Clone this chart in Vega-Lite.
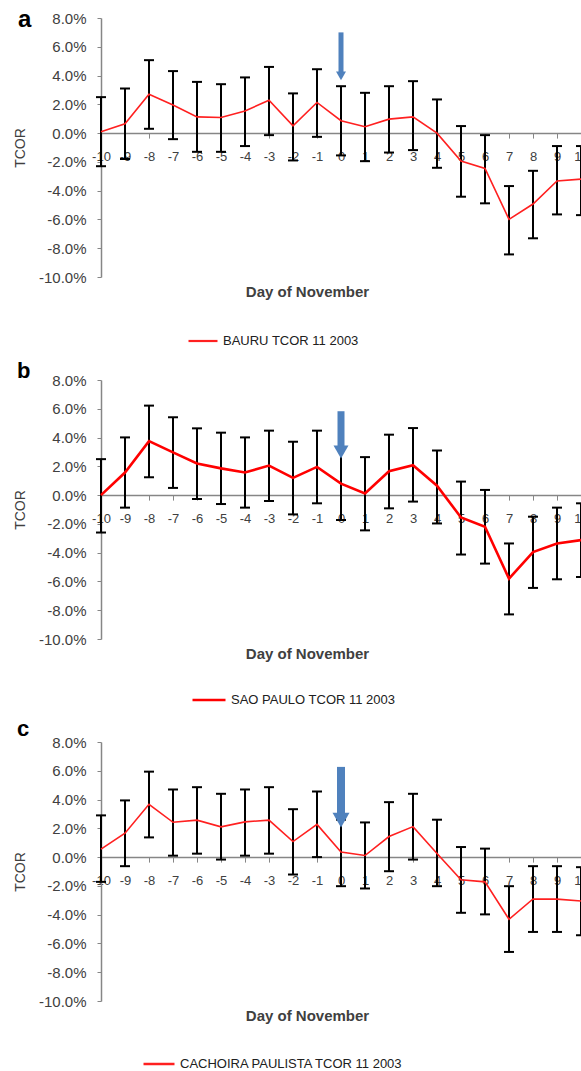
{
  "$schema": "https://vega.github.io/schema/vega-lite/v6.json",
  "padding": {"left": 13, "top": 8, "right": 0, "bottom": 0},
  "config": {
    "view": {"stroke": null},
    "font": "Liberation Sans",
    "axis": {"labelOverlap": false},
    "locale": {"number": {"decimal": ".", "thousands": ",", "grouping": [3], "currency": ["$", ""], "minus": "-"}}
  },
  "datasets": {
    "tcor": [
      {"panel": "a", "day": -10, "v": 0.001, "lo": -0.023, "hi": 0.025},
      {"panel": "a", "day": -9, "v": 0.0065, "lo": -0.018, "hi": 0.031},
      {"panel": "a", "day": -8, "v": 0.027, "lo": 0.003, "hi": 0.0507},
      {"panel": "a", "day": -7, "v": 0.0195, "lo": -0.0042, "hi": 0.0431},
      {"panel": "a", "day": -6, "v": 0.0113, "lo": -0.013, "hi": 0.0356},
      {"panel": "a", "day": -5, "v": 0.0109, "lo": -0.013, "hi": 0.034},
      {"panel": "a", "day": -4, "v": 0.0153, "lo": -0.009, "hi": 0.0387},
      {"panel": "a", "day": -3, "v": 0.0229, "lo": -0.0014, "hi": 0.046},
      {"panel": "a", "day": -2, "v": 0.005, "lo": -0.019, "hi": 0.0276},
      {"panel": "a", "day": -1, "v": 0.0213, "lo": -0.0026, "hi": 0.0444},
      {"panel": "a", "day": 0, "v": 0.0086, "lo": -0.0155, "hi": 0.0326},
      {"panel": "a", "day": 1, "v": 0.0044, "lo": -0.0195, "hi": 0.028},
      {"panel": "a", "day": 2, "v": 0.0097, "lo": -0.0135, "hi": 0.0326},
      {"panel": "a", "day": 3, "v": 0.0113, "lo": -0.0118, "hi": 0.0361},
      {"panel": "a", "day": 4, "v": 0.0, "lo": -0.0241, "hi": 0.0234},
      {"panel": "a", "day": 5, "v": -0.0194, "lo": -0.0442, "hi": 0.0049},
      {"panel": "a", "day": 6, "v": -0.0245, "lo": -0.0488, "hi": -0.0014},
      {"panel": "a", "day": 7, "v": -0.0599, "lo": -0.0843, "hi": -0.0368},
      {"panel": "a", "day": 8, "v": -0.0493, "lo": -0.0731, "hi": -0.0262},
      {"panel": "a", "day": 9, "v": -0.0333, "lo": -0.0565, "hi": -0.009},
      {"panel": "a", "day": 10, "v": -0.032, "lo": -0.057, "hi": -0.009},
      {"panel": "b", "day": -10, "v": 0.0, "lo": -0.026, "hi": 0.025},
      {"panel": "b", "day": -9, "v": 0.0157, "lo": -0.0087, "hi": 0.0401},
      {"panel": "b", "day": -8, "v": 0.0375, "lo": 0.0124, "hi": 0.0622},
      {"panel": "b", "day": -7, "v": 0.0297, "lo": 0.005, "hi": 0.0541},
      {"panel": "b", "day": -6, "v": 0.022, "lo": -0.0027, "hi": 0.0464},
      {"panel": "b", "day": -5, "v": 0.0186, "lo": -0.0062, "hi": 0.0434},
      {"panel": "b", "day": -4, "v": 0.0157, "lo": -0.0087, "hi": 0.0401},
      {"panel": "b", "day": -3, "v": 0.0205, "lo": -0.0041, "hi": 0.0448},
      {"panel": "b", "day": -2, "v": 0.012, "lo": -0.0134, "hi": 0.0371},
      {"panel": "b", "day": -1, "v": 0.0196, "lo": -0.0057, "hi": 0.0448},
      {"panel": "b", "day": 0, "v": 0.008, "lo": -0.0173, "hi": 0.0327},
      {"panel": "b", "day": 1, "v": 0.0012, "lo": -0.0245, "hi": 0.0264},
      {"panel": "b", "day": 2, "v": 0.0166, "lo": -0.0092, "hi": 0.042},
      {"panel": "b", "day": 3, "v": 0.0208, "lo": -0.0045, "hi": 0.0466},
      {"panel": "b", "day": 4, "v": 0.0065, "lo": -0.0197, "hi": 0.031},
      {"panel": "b", "day": 5, "v": -0.0155, "lo": -0.0413, "hi": 0.0094},
      {"panel": "b", "day": 6, "v": -0.022, "lo": -0.0476, "hi": 0.0036},
      {"panel": "b", "day": 7, "v": -0.058, "lo": -0.0829, "hi": -0.0336},
      {"panel": "b", "day": 8, "v": -0.0396, "lo": -0.0645, "hi": -0.015},
      {"panel": "b", "day": 9, "v": -0.0336, "lo": -0.0585, "hi": -0.0087},
      {"panel": "b", "day": 10, "v": -0.0313, "lo": -0.0569, "hi": -0.0057},
      {"panel": "c", "day": -10, "v": 0.0055, "lo": -0.0172, "hi": 0.029},
      {"panel": "c", "day": -9, "v": 0.0166, "lo": -0.0063, "hi": 0.0394},
      {"panel": "c", "day": -8, "v": 0.0367, "lo": 0.0137, "hi": 0.0594},
      {"panel": "c", "day": -7, "v": 0.0242, "lo": 0.001, "hi": 0.047},
      {"panel": "c", "day": -6, "v": 0.0257, "lo": 0.0024, "hi": 0.0486},
      {"panel": "c", "day": -5, "v": 0.021, "lo": -0.0017, "hi": 0.044},
      {"panel": "c", "day": -4, "v": 0.0245, "lo": 0.001, "hi": 0.047},
      {"panel": "c", "day": -3, "v": 0.0257, "lo": 0.0024, "hi": 0.0486},
      {"panel": "c", "day": -2, "v": 0.0108, "lo": -0.0121, "hi": 0.0333},
      {"panel": "c", "day": -1, "v": 0.0227, "lo": 0.0, "hi": 0.0456},
      {"panel": "c", "day": 0, "v": 0.0035, "lo": -0.0202, "hi": 0.026},
      {"panel": "c", "day": 1, "v": 0.0011, "lo": -0.0218, "hi": 0.0241},
      {"panel": "c", "day": 2, "v": 0.0143, "lo": -0.0098, "hi": 0.0382},
      {"panel": "c", "day": 3, "v": 0.0212, "lo": -0.0017, "hi": 0.044},
      {"panel": "c", "day": 4, "v": 0.0025, "lo": -0.0202, "hi": 0.026},
      {"panel": "c", "day": 5, "v": -0.0157, "lo": -0.0387, "hi": 0.007},
      {"panel": "c", "day": 6, "v": -0.0172, "lo": -0.0398, "hi": 0.0059},
      {"panel": "c", "day": 7, "v": -0.0432, "lo": -0.0659, "hi": -0.0202},
      {"panel": "c", "day": 8, "v": -0.0291, "lo": -0.052, "hi": -0.0063},
      {"panel": "c", "day": 9, "v": -0.0292, "lo": -0.052, "hi": -0.0063},
      {"panel": "c", "day": 10, "v": -0.0305, "lo": -0.0543, "hi": -0.007}
    ],
    "arrows": [
      {"panel": "a", "day": 0, "top": 0.07, "tip": 0.0368},
      {"panel": "b", "day": 0, "top": 0.0583, "tip": 0.0255},
      {"panel": "c", "day": 0, "top": 0.0627, "tip": 0.0205}
    ]
  },
  "bounds": "flush",
  "spacing": 103,
  "resolve": {"scale": {"color": "independent"}},
  "vconcat": [
    {
      "width": 480, "height": 259,
      "title": {"text": "a", "anchor": "start", "frame": "group", "fontSize": 24, "fontWeight": "bold", "font": "Liberation Sans", "color": "#000000", "dx": -83, "baseline": "alphabetic", "offset": -40},
      "encoding": {
        "x": {"field": "day", "type": "quantitative", "scale": {"domain": [-10, 10], "nice": false, "zero": false},
          "axis": {"values": [-10, -9, -8, -7, -6, -5, -4, -3, -2, -1, 0, 1, 2, 3, 4, 5, 6, 7, 8, 9, 10], "format": "d", "offset": -143.9, "grid": false,
            "domainColor": "#868686", "domainWidth": 1.5, "tickColor": "#868686", "tickSize": 5, "tickWidth": 1,
            "labelFontSize": 13, "labelColor": "#404040", "labelPadding": 12, "labelOverlap": false, "labelFlush": false,
            "title": "Day of November", "titleFontSize": 15, "titleFontWeight": "bold", "titleColor": "#404040", "titleX": 206, "titleY": 151}}
      },
      "layer": [
        {"data": {"name": "tcor"}, "transform": [{"filter": "datum.panel == 'a'"}],
          "mark": {"type": "rule", "color": "#000000", "strokeWidth": 2},
          "encoding": {
            "y": {"field": "lo", "type": "quantitative", "title": "TCOR", "scale": {"domain": [-0.1, 0.08], "nice": false, "zero": false},
              "axis": {"values": [-0.1, -0.08, -0.06, -0.04, -0.02, 0, 0.02, 0.04, 0.06, 0.08], "format": ".1%", "grid": false, "labelOverlap": false, "domainColor": "#868686", "domainWidth": 1.5, "tickColor": "#868686", "tickSize": 4, "tickWidth": 1, "labelFontSize": 15, "labelColor": "#404040", "labelPadding": 11, "titleFontSize": 14, "titleFontWeight": "normal", "titleColor": "#404040", "titlePadding": 11}},
            "y2": {"field": "hi"}}},
        {"data": {"name": "tcor"}, "transform": [{"filter": "datum.panel == 'a'"}],
          "mark": {"type": "tick", "orient": "horizontal", "size": 10, "thickness": 2, "color": "#000000", "opacity": 1},
          "encoding": {"y": {"field": "lo", "type": "quantitative", "title": "TCOR", "scale": {"domain": [-0.1, 0.08], "nice": false, "zero": false},
              "axis": {"values": [-0.1, -0.08, -0.06, -0.04, -0.02, 0, 0.02, 0.04, 0.06, 0.08], "format": ".1%", "grid": false, "labelOverlap": false, "domainColor": "#868686", "domainWidth": 1.5, "tickColor": "#868686", "tickSize": 4, "tickWidth": 1, "labelFontSize": 15, "labelColor": "#404040", "labelPadding": 11, "titleFontSize": 14, "titleFontWeight": "normal", "titleColor": "#404040", "titlePadding": 11}}}},
        {"data": {"name": "tcor"}, "transform": [{"filter": "datum.panel == 'a'"}],
          "mark": {"type": "tick", "orient": "horizontal", "size": 10, "thickness": 2, "color": "#000000", "opacity": 1},
          "encoding": {"y": {"field": "hi", "type": "quantitative", "title": "TCOR", "scale": {"domain": [-0.1, 0.08], "nice": false, "zero": false},
              "axis": {"values": [-0.1, -0.08, -0.06, -0.04, -0.02, 0, 0.02, 0.04, 0.06, 0.08], "format": ".1%", "grid": false, "labelOverlap": false, "domainColor": "#868686", "domainWidth": 1.5, "tickColor": "#868686", "tickSize": 4, "tickWidth": 1, "labelFontSize": 15, "labelColor": "#404040", "labelPadding": 11, "titleFontSize": 14, "titleFontWeight": "normal", "titleColor": "#404040", "titlePadding": 11}}}},
        {"data": {"name": "tcor"}, "transform": [{"filter": "datum.panel == 'a'"}],
          "mark": {"type": "line", "strokeWidth": 1.6},
          "encoding": {"y": {"field": "v", "type": "quantitative", "title": "TCOR", "scale": {"domain": [-0.1, 0.08], "nice": false, "zero": false},
              "axis": {"values": [-0.1, -0.08, -0.06, -0.04, -0.02, 0, 0.02, 0.04, 0.06, 0.08], "format": ".1%", "grid": false, "labelOverlap": false, "domainColor": "#868686", "domainWidth": 1.5, "tickColor": "#868686", "tickSize": 4, "tickWidth": 1, "labelFontSize": 15, "labelColor": "#404040", "labelPadding": 11, "titleFontSize": 14, "titleFontWeight": "normal", "titleColor": "#404040", "titlePadding": 11}},
            "color": {"datum": "BAURU TCOR 11 2003", "type": "nominal", "scale": {"range": ["#ff2020"]},
              "legend": {"orient": "none", "legendX": 86, "legendY": 307, "title": null, "symbolType": "stroke", "symbolSize": 841, "symbolStrokeWidth": 2.2,
                "labelFont": "Liberation Sans", "labelFontSize": 13, "labelColor": "#202020", "labelOffset": 4, "labelLimit": 500}}}},
        {"data": {"name": "arrows"}, "transform": [{"filter": "datum.panel == 'a'"}],
          "mark": {"type": "rule", "color": "#4f81bd", "strokeWidth": 5, "y2Offset": -8},
          "encoding": {"y": {"field": "top", "type": "quantitative", "title": "TCOR", "scale": {"domain": [-0.1, 0.08], "nice": false, "zero": false},
              "axis": {"values": [-0.1, -0.08, -0.06, -0.04, -0.02, 0, 0.02, 0.04, 0.06, 0.08], "format": ".1%", "grid": false, "labelOverlap": false, "domainColor": "#868686", "domainWidth": 1.5, "tickColor": "#868686", "tickSize": 4, "tickWidth": 1, "labelFontSize": 15, "labelColor": "#404040", "labelPadding": 11, "titleFontSize": 14, "titleFontWeight": "normal", "titleColor": "#404040", "titlePadding": 11}},
            "y2": {"field": "tip"}}},
        {"data": {"name": "arrows"}, "transform": [{"filter": "datum.panel == 'a'"}],
          "mark": {"type": "point", "shape": "triangle-down", "filled": true, "size": 100, "color": "#4f81bd", "opacity": 1, "yOffset": -4.3},
          "encoding": {"y": {"field": "tip", "type": "quantitative", "title": "TCOR", "scale": {"domain": [-0.1, 0.08], "nice": false, "zero": false},
              "axis": {"values": [-0.1, -0.08, -0.06, -0.04, -0.02, 0, 0.02, 0.04, 0.06, 0.08], "format": ".1%", "grid": false, "labelOverlap": false, "domainColor": "#868686", "domainWidth": 1.5, "tickColor": "#868686", "tickSize": 4, "tickWidth": 1, "labelFontSize": 15, "labelColor": "#404040", "labelPadding": 11, "titleFontSize": 14, "titleFontWeight": "normal", "titleColor": "#404040", "titlePadding": 11}}}}
      ]
    },
    {
      "width": 480, "height": 259,
      "title": {"text": "b", "anchor": "start", "frame": "group", "fontSize": 22, "fontWeight": "bold", "font": "Liberation Sans", "color": "#000000", "dx": -84, "baseline": "alphabetic", "offset": -27},
      "encoding": {
        "x": {"field": "day", "type": "quantitative", "scale": {"domain": [-10, 10], "nice": false, "zero": false},
          "axis": {"values": [-10, -9, -8, -7, -6, -5, -4, -3, -2, -1, 0, 1, 2, 3, 4, 5, 6, 7, 8, 9, 10], "format": "d", "offset": -143.9, "grid": false,
            "domainColor": "#868686", "domainWidth": 1.5, "tickColor": "#868686", "tickSize": 5, "tickWidth": 1,
            "labelFontSize": 13, "labelColor": "#404040", "labelPadding": 12, "labelOverlap": false, "labelFlush": false,
            "title": "Day of November", "titleFontSize": 15, "titleFontWeight": "bold", "titleColor": "#404040", "titleX": 206, "titleY": 151}}
      },
      "layer": [
        {"data": {"name": "tcor"}, "transform": [{"filter": "datum.panel == 'b'"}],
          "mark": {"type": "rule", "color": "#000000", "strokeWidth": 2},
          "encoding": {
            "y": {"field": "lo", "type": "quantitative", "title": "TCOR", "scale": {"domain": [-0.1, 0.08], "nice": false, "zero": false},
              "axis": {"values": [-0.1, -0.08, -0.06, -0.04, -0.02, 0, 0.02, 0.04, 0.06, 0.08], "format": ".1%", "grid": false, "labelOverlap": false, "domainColor": "#868686", "domainWidth": 1.5, "tickColor": "#868686", "tickSize": 4, "tickWidth": 1, "labelFontSize": 15, "labelColor": "#404040", "labelPadding": 11, "titleFontSize": 14, "titleFontWeight": "normal", "titleColor": "#404040", "titlePadding": 11}},
            "y2": {"field": "hi"}}},
        {"data": {"name": "tcor"}, "transform": [{"filter": "datum.panel == 'b'"}],
          "mark": {"type": "tick", "orient": "horizontal", "size": 10, "thickness": 2, "color": "#000000", "opacity": 1},
          "encoding": {"y": {"field": "lo", "type": "quantitative", "title": "TCOR", "scale": {"domain": [-0.1, 0.08], "nice": false, "zero": false},
              "axis": {"values": [-0.1, -0.08, -0.06, -0.04, -0.02, 0, 0.02, 0.04, 0.06, 0.08], "format": ".1%", "grid": false, "labelOverlap": false, "domainColor": "#868686", "domainWidth": 1.5, "tickColor": "#868686", "tickSize": 4, "tickWidth": 1, "labelFontSize": 15, "labelColor": "#404040", "labelPadding": 11, "titleFontSize": 14, "titleFontWeight": "normal", "titleColor": "#404040", "titlePadding": 11}}}},
        {"data": {"name": "tcor"}, "transform": [{"filter": "datum.panel == 'b'"}],
          "mark": {"type": "tick", "orient": "horizontal", "size": 10, "thickness": 2, "color": "#000000", "opacity": 1},
          "encoding": {"y": {"field": "hi", "type": "quantitative", "title": "TCOR", "scale": {"domain": [-0.1, 0.08], "nice": false, "zero": false},
              "axis": {"values": [-0.1, -0.08, -0.06, -0.04, -0.02, 0, 0.02, 0.04, 0.06, 0.08], "format": ".1%", "grid": false, "labelOverlap": false, "domainColor": "#868686", "domainWidth": 1.5, "tickColor": "#868686", "tickSize": 4, "tickWidth": 1, "labelFontSize": 15, "labelColor": "#404040", "labelPadding": 11, "titleFontSize": 14, "titleFontWeight": "normal", "titleColor": "#404040", "titlePadding": 11}}}},
        {"data": {"name": "tcor"}, "transform": [{"filter": "datum.panel == 'b'"}],
          "mark": {"type": "line", "strokeWidth": 2.6},
          "encoding": {"y": {"field": "v", "type": "quantitative", "title": "TCOR", "scale": {"domain": [-0.1, 0.08], "nice": false, "zero": false},
              "axis": {"values": [-0.1, -0.08, -0.06, -0.04, -0.02, 0, 0.02, 0.04, 0.06, 0.08], "format": ".1%", "grid": false, "labelOverlap": false, "domainColor": "#868686", "domainWidth": 1.5, "tickColor": "#868686", "tickSize": 4, "tickWidth": 1, "labelFontSize": 15, "labelColor": "#404040", "labelPadding": 11, "titleFontSize": 14, "titleFontWeight": "normal", "titleColor": "#404040", "titlePadding": 11}},
            "color": {"datum": "SAO PAULO TCOR 11 2003", "type": "nominal", "scale": {"range": ["#ff0000"]},
              "legend": {"orient": "none", "legendX": 90, "legendY": 302, "title": null, "symbolType": "stroke", "symbolSize": 1089, "symbolStrokeWidth": 2.5,
                "labelFont": "Liberation Sans", "labelFontSize": 13, "labelColor": "#202020", "labelOffset": 4, "labelLimit": 500}}}},
        {"data": {"name": "arrows"}, "transform": [{"filter": "datum.panel == 'b'"}],
          "mark": {"type": "rule", "color": "#4f81bd", "strokeWidth": 7, "y2Offset": -12},
          "encoding": {"y": {"field": "top", "type": "quantitative", "title": "TCOR", "scale": {"domain": [-0.1, 0.08], "nice": false, "zero": false},
              "axis": {"values": [-0.1, -0.08, -0.06, -0.04, -0.02, 0, 0.02, 0.04, 0.06, 0.08], "format": ".1%", "grid": false, "labelOverlap": false, "domainColor": "#868686", "domainWidth": 1.5, "tickColor": "#868686", "tickSize": 4, "tickWidth": 1, "labelFontSize": 15, "labelColor": "#404040", "labelPadding": 11, "titleFontSize": 14, "titleFontWeight": "normal", "titleColor": "#404040", "titlePadding": 11}},
            "y2": {"field": "tip"}}},
        {"data": {"name": "arrows"}, "transform": [{"filter": "datum.panel == 'b'"}],
          "mark": {"type": "point", "shape": "triangle-down", "filled": true, "size": 225, "color": "#4f81bd", "opacity": 1, "yOffset": -6.5},
          "encoding": {"y": {"field": "tip", "type": "quantitative", "title": "TCOR", "scale": {"domain": [-0.1, 0.08], "nice": false, "zero": false},
              "axis": {"values": [-0.1, -0.08, -0.06, -0.04, -0.02, 0, 0.02, 0.04, 0.06, 0.08], "format": ".1%", "grid": false, "labelOverlap": false, "domainColor": "#868686", "domainWidth": 1.5, "tickColor": "#868686", "tickSize": 4, "tickWidth": 1, "labelFontSize": 15, "labelColor": "#404040", "labelPadding": 11, "titleFontSize": 14, "titleFontWeight": "normal", "titleColor": "#404040", "titlePadding": 11}}}}
      ]
    },
    {
      "width": 480, "height": 259,
      "title": {"text": "c", "anchor": "start", "frame": "group", "fontSize": 22, "fontWeight": "bold", "font": "Liberation Sans", "color": "#000000", "dx": -84, "baseline": "alphabetic", "offset": -23},
      "encoding": {
        "x": {"field": "day", "type": "quantitative", "scale": {"domain": [-10, 10], "nice": false, "zero": false},
          "axis": {"values": [-10, -9, -8, -7, -6, -5, -4, -3, -2, -1, 0, 1, 2, 3, 4, 5, 6, 7, 8, 9, 10], "format": "d", "offset": -143.9, "grid": false,
            "domainColor": "#868686", "domainWidth": 1.5, "tickColor": "#868686", "tickSize": 5, "tickWidth": 1,
            "labelFontSize": 13, "labelColor": "#404040", "labelPadding": 12, "labelOverlap": false, "labelFlush": false,
            "title": "Day of November", "titleFontSize": 15, "titleFontWeight": "bold", "titleColor": "#404040", "titleX": 206, "titleY": 151}}
      },
      "layer": [
        {"data": {"name": "tcor"}, "transform": [{"filter": "datum.panel == 'c'"}],
          "mark": {"type": "rule", "color": "#000000", "strokeWidth": 2},
          "encoding": {
            "y": {"field": "lo", "type": "quantitative", "title": "TCOR", "scale": {"domain": [-0.1, 0.08], "nice": false, "zero": false},
              "axis": {"values": [-0.1, -0.08, -0.06, -0.04, -0.02, 0, 0.02, 0.04, 0.06, 0.08], "format": ".1%", "grid": false, "labelOverlap": false, "domainColor": "#868686", "domainWidth": 1.5, "tickColor": "#868686", "tickSize": 4, "tickWidth": 1, "labelFontSize": 15, "labelColor": "#404040", "labelPadding": 11, "titleFontSize": 14, "titleFontWeight": "normal", "titleColor": "#404040", "titlePadding": 11}},
            "y2": {"field": "hi"}}},
        {"data": {"name": "tcor"}, "transform": [{"filter": "datum.panel == 'c'"}],
          "mark": {"type": "tick", "orient": "horizontal", "size": 10, "thickness": 2, "color": "#000000", "opacity": 1},
          "encoding": {"y": {"field": "lo", "type": "quantitative", "title": "TCOR", "scale": {"domain": [-0.1, 0.08], "nice": false, "zero": false},
              "axis": {"values": [-0.1, -0.08, -0.06, -0.04, -0.02, 0, 0.02, 0.04, 0.06, 0.08], "format": ".1%", "grid": false, "labelOverlap": false, "domainColor": "#868686", "domainWidth": 1.5, "tickColor": "#868686", "tickSize": 4, "tickWidth": 1, "labelFontSize": 15, "labelColor": "#404040", "labelPadding": 11, "titleFontSize": 14, "titleFontWeight": "normal", "titleColor": "#404040", "titlePadding": 11}}}},
        {"data": {"name": "tcor"}, "transform": [{"filter": "datum.panel == 'c'"}],
          "mark": {"type": "tick", "orient": "horizontal", "size": 10, "thickness": 2, "color": "#000000", "opacity": 1},
          "encoding": {"y": {"field": "hi", "type": "quantitative", "title": "TCOR", "scale": {"domain": [-0.1, 0.08], "nice": false, "zero": false},
              "axis": {"values": [-0.1, -0.08, -0.06, -0.04, -0.02, 0, 0.02, 0.04, 0.06, 0.08], "format": ".1%", "grid": false, "labelOverlap": false, "domainColor": "#868686", "domainWidth": 1.5, "tickColor": "#868686", "tickSize": 4, "tickWidth": 1, "labelFontSize": 15, "labelColor": "#404040", "labelPadding": 11, "titleFontSize": 14, "titleFontWeight": "normal", "titleColor": "#404040", "titlePadding": 11}}}},
        {"data": {"name": "tcor"}, "transform": [{"filter": "datum.panel == 'c'"}],
          "mark": {"type": "line", "strokeWidth": 1.6},
          "encoding": {"y": {"field": "v", "type": "quantitative", "title": "TCOR", "scale": {"domain": [-0.1, 0.08], "nice": false, "zero": false},
              "axis": {"values": [-0.1, -0.08, -0.06, -0.04, -0.02, 0, 0.02, 0.04, 0.06, 0.08], "format": ".1%", "grid": false, "labelOverlap": false, "domainColor": "#868686", "domainWidth": 1.5, "tickColor": "#868686", "tickSize": 4, "tickWidth": 1, "labelFontSize": 15, "labelColor": "#404040", "labelPadding": 11, "titleFontSize": 14, "titleFontWeight": "normal", "titleColor": "#404040", "titlePadding": 11}},
            "color": {"datum": "CACHOIRA PAULISTA TCOR 11 2003", "type": "nominal", "scale": {"range": ["#ff2020"]},
              "legend": {"orient": "none", "legendX": 41, "legendY": 305, "title": null, "symbolType": "stroke", "symbolSize": 961, "symbolStrokeWidth": 2.5,
                "labelFont": "Liberation Sans", "labelFontSize": 13, "labelColor": "#202020", "labelOffset": 4, "labelLimit": 500}}}},
        {"data": {"name": "arrows"}, "transform": [{"filter": "datum.panel == 'c'"}],
          "mark": {"type": "rule", "color": "#4f81bd", "strokeWidth": 8, "y2Offset": -14},
          "encoding": {"y": {"field": "top", "type": "quantitative", "title": "TCOR", "scale": {"domain": [-0.1, 0.08], "nice": false, "zero": false},
              "axis": {"values": [-0.1, -0.08, -0.06, -0.04, -0.02, 0, 0.02, 0.04, 0.06, 0.08], "format": ".1%", "grid": false, "labelOverlap": false, "domainColor": "#868686", "domainWidth": 1.5, "tickColor": "#868686", "tickSize": 4, "tickWidth": 1, "labelFontSize": 15, "labelColor": "#404040", "labelPadding": 11, "titleFontSize": 14, "titleFontWeight": "normal", "titleColor": "#404040", "titlePadding": 11}},
            "y2": {"field": "tip"}}},
        {"data": {"name": "arrows"}, "transform": [{"filter": "datum.panel == 'c'"}],
          "mark": {"type": "point", "shape": "triangle-down", "filled": true, "size": 289, "color": "#4f81bd", "opacity": 1, "yOffset": -7.4},
          "encoding": {"y": {"field": "tip", "type": "quantitative", "title": "TCOR", "scale": {"domain": [-0.1, 0.08], "nice": false, "zero": false},
              "axis": {"values": [-0.1, -0.08, -0.06, -0.04, -0.02, 0, 0.02, 0.04, 0.06, 0.08], "format": ".1%", "grid": false, "labelOverlap": false, "domainColor": "#868686", "domainWidth": 1.5, "tickColor": "#868686", "tickSize": 4, "tickWidth": 1, "labelFontSize": 15, "labelColor": "#404040", "labelPadding": 11, "titleFontSize": 14, "titleFontWeight": "normal", "titleColor": "#404040", "titlePadding": 11}}}}
      ]
    }
  ]
}
